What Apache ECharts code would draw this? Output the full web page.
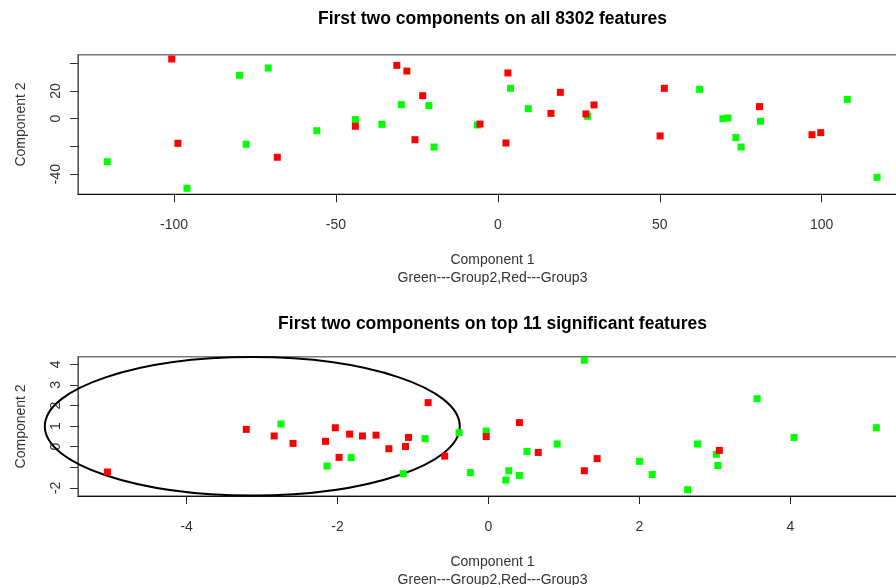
<!DOCTYPE html>
<html>
<head>
<meta charset="utf-8">
<script src="https://cdn.jsdelivr.net/npm/echarts@6/dist/echarts.min.js"></script>
<style>
html,body{margin:0;padding:0;background:#fff;}
#chart{width:896px;height:585px;}
</style>
</head>
<body>
<div id="chart"></div>
<script>
// ---- Titles / axis text ----
var titleTop = 'First two components on all 8302 features';
var titleBottom = 'First two components on top 11 significant features';
var xName = 'Component 1\nGreen---Group2,Red---Group3';
var yName = 'Component 2';

// ---- Top panel: all 8302 features ----
var topGreen = [
  [-79.8, 31.3], [-70.9, 36.6], [-77.7, -18.5], [-120.6, -31.1], [-96.0, -50.3],
  [-55.9, -8.7], [-44.0, -0.7], [-35.8, -4.1], [-29.8, 10.1], [-21.3, 9.4],
  [-19.7, -20.5], [-6.3, -4.6], [3.9, 21.9], [9.4, 7.2], [27.7, 1.7],
  [62.3, 21.2], [69.5, 0.0], [71.0, 0.5], [81.1, -1.9], [73.5, -13.7],
  [75.1, -20.5], [107.9, 13.9], [117.1, -42.4]
];
var topRed = [
  [-100.7, 43.1], [-98.8, -17.8], [-68.1, -27.9], [-44.0, -5.5], [-31.2, 38.5],
  [-28.1, 34.4], [-23.2, 16.6], [-25.6, -15.2], [-5.5, -3.9], [3.1, 33.0],
  [2.5, -17.6], [19.3, 19.0], [16.4, 3.8], [27.2, 3.4], [29.7, 9.9],
  [51.4, 21.9], [50.1, -12.5], [80.8, 8.7], [97.0, -11.6], [99.7, -10.1]
];
var topXTicks = [-100, -50, 0, 50, 100];
var topYTicks = [-40, -20, 0, 20, 40];
var topYLabels = [-40, 0, 20];

// ---- Bottom panel: top 11 significant features ----
var botGreen = [
  [-2.75, 1.10], [-2.14, -0.94], [-1.82, -0.53], [-1.13, -1.31], [-0.84, 0.39],
  [-0.39, 0.68], [-0.03, 0.76], [-0.24, -1.26], [0.27, -1.17], [0.23, -1.62],
  [0.41, -1.40], [0.51, -0.23], [0.91, 0.13], [1.27, 4.20], [2.00, -0.71],
  [2.17, -1.35], [2.64, -2.09], [2.77, 0.13], [3.02, -0.37], [3.04, -0.91],
  [3.56, 2.33], [4.05, 0.45], [5.14, 0.92]
];
var botRed = [
  [-5.05, -1.23], [-3.21, 0.84], [-2.84, 0.52], [-2.59, 0.16], [-2.16, 0.26],
  [-2.03, 0.92], [-1.98, -0.52], [-1.84, 0.61], [-1.67, 0.52], [-1.49, 0.56],
  [-1.32, -0.10], [-1.10, 0.01], [-1.06, 0.45], [-0.80, 2.14], [-0.58, -0.46],
  [-0.03, 0.49], [0.41, 1.17], [0.66, -0.28], [1.27, -1.17], [1.44, -0.58],
  [3.06, -0.18]
];
var botXTicks = [-4, -2, 0, 2, 4];
var botYTicks = [-2, -1, 0, 1, 2, 3, 4];
var botYLabels = [-2, 0, 1, 2, 3, 4];
// ellipse: centre x, centre y, semi-axis x, semi-axis y (data units)
var ellipseSpec = [[-3.13, 0.99, 2.75, 3.36]];

// ---- Styling ----
var GREEN = '#00ff00', RED = '#ff0000';
var FONT = 'Liberation Sans, Arial, sans-serif';
var TXT = '#333333';

function xAxisCfg(gi, min, max, ticks) {
  return {
    type: 'value', gridIndex: gi, min: min, max: max,
    name: xName, nameLocation: 'middle', nameGap: 57,
    nameTextStyle: { fontFamily: FONT, fontSize: 14, color: TXT, lineHeight: 18 },
    axisLine: { show: true, onZero: false, lineStyle: { color: '#111', width: 1 } },
    axisTick: { show: true, inside: false, length: 8, customValues: ticks, lineStyle: { color: '#222' } },
    axisLabel: { show: true, margin: 24, customValues: ticks, fontFamily: FONT, fontSize: 14, color: TXT },
    splitLine: { show: false }
  };
}
function yAxisCfg(gi, min, max, ticks, labels) {
  return {
    type: 'value', gridIndex: gi, min: min, max: max,
    name: yName, nameLocation: 'middle', nameGap: 50,
    nameTextStyle: { fontFamily: FONT, fontSize: 14, color: TXT },
    axisLine: { show: true, onZero: false, lineStyle: { color: '#555', width: 1 } },
    axisTick: { show: true, inside: false, length: 8, customValues: ticks, lineStyle: { color: '#333' } },
    axisLabel: { show: true, margin: 15, rotate: 90, customValues: labels, fontFamily: FONT, fontSize: 14, color: TXT },
    splitLine: { show: false }
  };
}

var chart = echarts.init(document.getElementById('chart'), null, { renderer: 'canvas' });
var option = {
  animation: false,
  backgroundColor: '#ffffff',
  grid: [
    { left: 78, top: 54.7, width: 829, height: 139.6, show: true, borderColor: '#777', borderWidth: 1.5, backgroundColor: 'transparent', outerBoundsMode: 'none' },
    { left: 78, top: 356.7, width: 829, height: 139.4, show: true, borderColor: '#777', borderWidth: 1.5, backgroundColor: 'transparent', outerBoundsMode: 'none' }
  ],
  xAxis: [
    xAxisCfg(0, -129.64, 126.34, topXTicks),
    xAxisCfg(1, -5.44, 5.547, botXTicks)
  ],
  yAxis: [
    yAxisCfg(0, -54.66, 46.2, topYTicks, topYLabels),
    yAxisCfg(1, -2.40, 4.37, botYTicks, botYLabels)
  ],
  graphic: [
    { type: 'text', x: 492.5, y: 10, style: { text: titleTop, fontFamily: FONT, fontSize: 17.5, fontWeight: 'bold', fill: '#000', textAlign: 'center', textVerticalAlign: 'top' } },
    { type: 'text', x: 492.5, y: 315, style: { text: titleBottom, fontFamily: FONT, fontSize: 17.5, fontWeight: 'bold', fill: '#000', textAlign: 'center', textVerticalAlign: 'top' } }
  ],
  series: [
    { type: 'scatter', xAxisIndex: 0, yAxisIndex: 0, data: topGreen, symbol: 'rect', symbolSize: 7, itemStyle: { color: GREEN, opacity: 1 }, silent: true },
    { type: 'scatter', xAxisIndex: 0, yAxisIndex: 0, data: topRed, symbol: 'rect', symbolSize: 7, itemStyle: { color: RED, opacity: 1 }, silent: true },
    { type: 'scatter', xAxisIndex: 1, yAxisIndex: 1, data: botGreen, symbol: 'rect', symbolSize: 7, itemStyle: { color: GREEN, opacity: 1 }, silent: true },
    { type: 'scatter', xAxisIndex: 1, yAxisIndex: 1, data: botRed, symbol: 'rect', symbolSize: 7, itemStyle: { color: RED, opacity: 1 }, silent: true },
    {
      type: 'custom', xAxisIndex: 1, yAxisIndex: 1, data: ellipseSpec, clip: false, silent: true,
      encode: { x: 0, y: 1 },
      renderItem: function (params, api) {
        var c = api.coord([api.value(0), api.value(1)]);
        var p = api.coord([api.value(0) + api.value(2), api.value(1) + api.value(3)]);
        return {
          type: 'ellipse',
          shape: { cx: c[0], cy: c[1], rx: Math.abs(p[0] - c[0]), ry: Math.abs(c[1] - p[1]) },
          style: { fill: 'none', stroke: '#000', lineWidth: 2 }
        };
      }
    }
  ]
};
chart.setOption(option);
</script>
</body>
</html>
